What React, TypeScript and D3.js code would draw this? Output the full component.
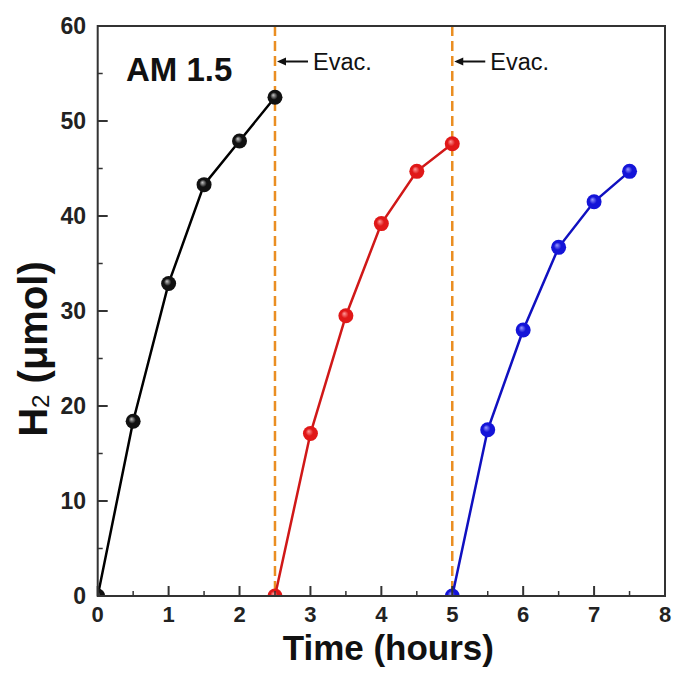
import React from "react";
import * as d3 from "d3";

const seriesBlackX = [0, 0.5, 1, 1.5, 2, 2.5];
const seriesBlackY = [0, 18.4, 32.9, 43.3, 47.9, 52.5];
const seriesRedX = [2.5, 3, 3.5, 4, 4.5, 5];
const seriesRedY = [0, 17.1, 29.5, 39.2, 44.7, 47.6];
const seriesBlueX = [5, 5.5, 6, 6.5, 7, 7.5];
const seriesBlueY = [0, 17.5, 28.0, 36.7, 41.5, 44.7];
const evacTimes = [2.5, 5];
const xTicks = [0, 1, 2, 3, 4, 5, 6, 7, 8];
const yTicks = [0, 10, 20, 30, 40, 50, 60];

const W = 675;
const H = 673;
const left = 97.7;
const right = 665;
const top = 26;
const bottom = 596;

export default function App() {
  const x = d3.scaleLinear().domain([0, 8]).range([left, right]);
  const y = d3.scaleLinear().domain([0, 60]).range([bottom, top]);
  const line = d3
    .line<[number, number]>()
    .x((d) => x(d[0]))
    .y((d) => y(d[1]));

  const series = [
    { id: "blk", xs: seriesBlackX, ys: seriesBlackY, line: "#000000", base: "#111111", hi: "#c8c8c8" },
    { id: "red", xs: seriesRedX, ys: seriesRedY, line: "#d01818", base: "#e01818", hi: "#ff9a9a" },
    { id: "blu", xs: seriesBlueX, ys: seriesBlueY, line: "#1010c0", base: "#1414d8", hi: "#9a9aff" },
  ];

  const xMinor = d3.range(0.5, 8, 1);
  const yMinor = d3.range(5, 60, 10);
  const font = "Liberation Sans, Arial, sans-serif";

  return (
    <svg width={W} height={H} style={{ position: "absolute", left: 0, top: 0, background: "#fff" }}>
      <defs>
        <clipPath id="plotClip">
          <rect x={left} y={top} width={right - left} height={bottom - top} />
        </clipPath>
        {series.map((s) => (
          <radialGradient key={s.id} id={"g-" + s.id} cx="50%" cy="50%" r="55%" fx="38%" fy="35%">
            <stop offset="0%" stopColor={s.hi} />
            <stop offset="45%" stopColor={s.base} />
            <stop offset="100%" stopColor={s.base} />
          </radialGradient>
        ))}
      </defs>
      <rect x={0} y={0} width={W} height={H} fill="#fff" />

      {/* evac lines */}
      {evacTimes.map((t) => (
        <line
          key={"ev" + t}
          x1={x(t)}
          x2={x(t)}
          y1={top}
          y2={bottom}
          stroke="#ea8e22"
          strokeWidth={2.5}
          strokeDasharray="10,5"
        />
      ))}

      {/* series */}
      <g clipPath="url(#plotClip)">
        {series.map((s) => {
          const pts: [number, number][] = s.xs.map((v, i) => [v, s.ys[i]]);
          return (
            <g key={s.id}>
              <path d={line(pts) || ""} fill="none" stroke={s.line} strokeWidth={2.5} />
              {pts.map((p, i) => (
                <circle key={i} cx={x(p[0])} cy={y(p[1])} r={7.5} fill={`url(#g-${s.id})`} />
              ))}
            </g>
          );
        })}
      </g>

      {/* frame */}
      <rect x={left} y={top} width={right - left} height={bottom - top} fill="none" stroke="#333" strokeWidth={2} />

      {/* ticks */}
      {xTicks.map((t) => (
        <line key={"xt" + t} x1={x(t)} x2={x(t)} y1={bottom} y2={bottom - 10} stroke="#333" strokeWidth={2} />
      ))}
      {xMinor.map((t) => (
        <line key={"xm" + t} x1={x(t)} x2={x(t)} y1={bottom} y2={bottom - 5} stroke="#333" strokeWidth={1.5} />
      ))}
      {yTicks.map((t) => (
        <line key={"yt" + t} x1={left} x2={left + 10} y1={y(t)} y2={y(t)} stroke="#333" strokeWidth={2} />
      ))}
      {yMinor.map((t) => (
        <line key={"ym" + t} x1={left} x2={left + 5} y1={y(t)} y2={y(t)} stroke="#333" strokeWidth={1.5} />
      ))}

      {/* tick labels */}
      {xTicks.map((t) => (
        <text
          key={"xl" + t}
          x={x(t)}
          y={622}
          textAnchor="middle"
          fontFamily={font}
          fontWeight="bold"
          fontSize={22}
          fill="#222"
        >
          {t}
        </text>
      ))}
      {yTicks.map((t) => (
        <text
          key={"yl" + t}
          x={86}
          y={y(t) + 8}
          textAnchor="end"
          fontFamily={font}
          fontWeight="bold"
          fontSize={23}
          fill="#222"
        >
          {t}
        </text>
      ))}

      {/* axis titles */}
      <text x={(left + right) / 2 + 7} y={660} textAnchor="middle" fontFamily={font} fontWeight="bold" fontSize={35} fill="#111">
        Time (hours)
      </text>
      <text
        transform={`translate(47,349) rotate(-90)`}
        textAnchor="middle"
        fontFamily={font}
        fontWeight="bold"
        fontSize={40}
        fill="#111"
      >
        H<tspan fontSize={24} fontWeight="normal" dy={2}>2</tspan>
        <tspan dy={-2}> (μmol)</tspan>
      </text>

      {/* AM 1.5 label */}
      <text x={126} y={81} fontFamily={font} fontWeight="bold" fontSize={33} fill="#111">
        AM 1.5
      </text>

      {/* Evac annotations */}
      {evacTimes.map((t) => (
        <g key={"an" + t}>
          <line x1={x(t) + 6} x2={x(t) + 33} y1={61.5} y2={61.5} stroke="#111" strokeWidth={2} />
          <path
            d={`M${x(t) + 2},61.5 L${x(t) + 11},57.5 L${x(t) + 11},65.5 Z`}
            fill="#111"
          />
          <text x={x(t) + 38} y={69.5} fontFamily={font} fontSize={23.5} fill="#111">
            Evac.
          </text>
        </g>
      ))}
    </svg>
  );
}
